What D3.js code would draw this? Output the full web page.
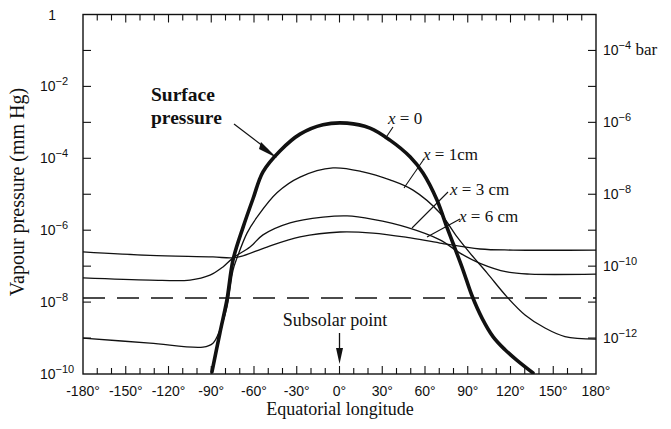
<!DOCTYPE html>
<html><head><meta charset="utf-8">
<script src="https://cdn.jsdelivr.net/npm/d3@7"></script>
<style>
html,body{margin:0;padding:0;background:#fff;}
svg{display:block;}
.tick-lab{font-family:"Liberation Sans","Arial",sans-serif;font-size:14px;fill:#111;}
.serif{font-family:"Liberation Serif","Times New Roman",serif;fill:#111;}
</style>
</head><body>
<svg id="chart" width="671" height="429"></svg>
<script>
// ---- data (longitude in degrees, vapour pressure in mm Hg) ----
const lonTicks = [-180,-150,-120,-90,-60,-30,0,30,60,90,120,150,180];
const leftTickExps = [0,-2,-4,-6,-8,-10];
const rightTickExps = [-4,-6,-8,-10,-12];

const surfaceLon = [-89.5,-83.9,-79,-74.7,-67.7,-60.7,-53.7,-41.8,-27.7,-11.6,5.3,21.4,35.4,49.5,58.6,68.4,75.4,79.6,86.7,93,100,107.7,116,124.6,135.8];
const surfaceP   = [1.15e-10,1.4e-9,1.15e-8,1.5e-7,1.2e-6,7.5e-6,4.2e-5,1.6e-4,4.7e-4,8.6e-4,9.5e-4,6.9e-4,3.2e-4,1.1e-4,3.9e-5,6.9e-6,1.2e-6,4.4e-7,7.8e-8,1.5e-8,3.6e-9,1.1e-9,4.8e-10,2.4e-10,1.07e-10];

const x1Lon = [-180,-133,-95.8,-88.8,-83.9,-79,-74.7,-71.9,-64.9,-57.9,-43.9,-27.7,-4.6,16.5,35.4,51.6,70.5,82.5,91.6,103.5,117.5,130.2,144.2,158.2,180];
const x1P   = [1.0e-9,7.2e-10,5.6e-10,7.2e-10,1.7e-9,7.3e-9,7.8e-8,1.7e-7,8.3e-7,2.3e-6,1.1e-5,3.0e-5,5.4e-5,4.2e-5,2.5e-5,1.3e-5,3.0e-6,6.5e-7,2.3e-7,6.5e-8,1.4e-8,4.4e-9,1.9e-9,1.1e-9,9.3e-10];

const x3Lon = [-180,-133,-104.9,-90.9,-81.8,-74.7,-62.8,-53.7,-34.7,-11.6,5.3,23.5,47.4,70.5,84.6,98.6,117.5,133.7,180];
const x3P   = [4.7e-8,4.1e-8,4.1e-8,5.6e-8,9.5e-8,1.7e-7,3.4e-7,7.4e-7,1.6e-6,2.3e-6,2.5e-6,2.0e-6,1.2e-6,5.4e-7,2.3e-7,1.2e-7,6.9e-8,6.0e-8,6.0e-8];

const x6Lon = [-180,-133,-88.8,-75.4,-68.4,-50.9,-27.7,0.4,23.5,47.4,70.5,98.6,121.8,180];
const x6P   = [2.5e-7,2.0e-7,1.8e-7,1.7e-7,1.9e-7,3.4e-7,6.5e-7,8.9e-7,8.3e-7,6.3e-7,4.4e-7,3.0e-7,2.8e-7,2.8e-7];

const subsolarP = 1.3e-8;   // dashed reference level
const subsolarLon = 0;

// ---- layout ----
const svg = d3.select("#chart");
const L = 83, R = 596, T = 14.5, B = 374;
const x = d3.scaleLinear().domain([-180,180]).range([L,R]);
const y = d3.scaleLog().domain([1,1e-10]).range([T,B]);
const yBar = d3.scaleLog().domain([1e-3,1e-13]).range([T,B]);
const ink = "#111";

// frame
svg.append("rect").attr("x",L).attr("y",T).attr("width",R-L).attr("height",B-T)
  .attr("fill","none").attr("stroke",ink).attr("stroke-width",1.4);

// bottom/top minor ticks every 10 deg
const lon10 = d3.range(-170,180,10);
svg.append("g").selectAll("line").data(lon10).join("line")
  .attr("x1",d=>x(d)).attr("x2",d=>x(d)).attr("y1",B).attr("y2",d=>B-(d%30===0?8:6))
  .attr("stroke",ink).attr("stroke-width",1.1);
svg.append("g").selectAll("line").data(lon10).join("line")
  .attr("x1",d=>x(d)).attr("x2",d=>x(d)).attr("y1",T).attr("y2",d=>T+(d%30===0?8:6))
  .attr("stroke",ink).attr("stroke-width",1.1);

// bottom labels
svg.append("g").selectAll("text").data(lonTicks).join("text")
  .attr("class","tick-lab").attr("x",d=>x(d)).attr("y",396).attr("text-anchor","middle")
  .text(d=>d+"°");

// left ticks every decade
const leftDec = d3.range(-1,-10,-1);
svg.append("g").selectAll("line").data(leftDec).join("line")
  .attr("x1",L).attr("x2",L+8).attr("y1",d=>y(Math.pow(10,d))).attr("y2",d=>y(Math.pow(10,d)))
  .attr("stroke",ink).attr("stroke-width",1.1);
// right ticks every decade (bar scale)
const rightDec = d3.range(-4,-13,-1);
svg.append("g").selectAll("line").data(rightDec).join("line")
  .attr("x1",R).attr("x2",R-8).attr("y1",d=>yBar(Math.pow(10,d))).attr("y2",d=>yBar(Math.pow(10,d)))
  .attr("stroke",ink).attr("stroke-width",1.1);

// left labels
leftTickExps.forEach(e=>{
  const yy = y(Math.pow(10,e));
  if(e===0){
    svg.append("text").attr("class","tick-lab").attr("x",56).attr("y",yy+5).attr("text-anchor","end").text("1");
  } else {
    const t = svg.append("text").attr("class","tick-lab").attr("x",40).attr("y",yy+5);
    t.append("tspan").text("10");
    t.append("tspan").attr("dy",-6).attr("font-size",11).text("−"+(-e));
  }
});
// right labels
rightTickExps.forEach(e=>{
  const yy = yBar(Math.pow(10,e));
  const t = svg.append("text").attr("class","tick-lab").attr("x",603).attr("y",yy+5);
  t.append("tspan").text("10");
  t.append("tspan").attr("dy",-6).attr("font-size",11).text("−"+(-e));
  if(e===-4){
    t.append("tspan").attr("dy",6).attr("font-family","Liberation Serif, serif").attr("font-size",17).text(" bar");
  }
});

// axis titles
svg.append("text").attr("class","serif").attr("x",340).attr("y",415).attr("text-anchor","middle")
  .attr("font-size",18).text("Equatorial longitude");
svg.append("text").attr("class","serif").attr("transform","translate(24,192) rotate(-90)")
  .attr("text-anchor","middle").attr("font-size",20).text("Vapour pressure (mm Hg)");

// dashed subsolar line
svg.append("line").attr("x1",L).attr("x2",R).attr("y1",y(subsolarP)).attr("y2",y(subsolarP))
  .attr("stroke",ink).attr("stroke-width",1.3).attr("stroke-dasharray","22,12");

// curves
const clipId = "plotclip";
svg.append("clipPath").attr("id",clipId).append("rect").attr("x",L).attr("y",T).attr("width",R-L).attr("height",B-T);
const line = d3.line().x(d=>x(d[0])).y(d=>y(d[1])).curve(d3.curveCatmullRom.alpha(0.5));
const zipS = (a,b)=>a.map((v,i)=>[v,b[i]]);
const g = svg.append("g").attr("clip-path","url(#"+clipId+")");
[[x6Lon,x6P],[x3Lon,x3P],[x1Lon,x1P]].forEach(([a,b])=>{
  g.append("path").attr("d",line(zipS(a,b))).attr("fill","none").attr("stroke",ink).attr("stroke-width",1.3);
});
g.append("path").attr("d",line(zipS(surfaceLon,surfaceP))).attr("fill","none").attr("stroke",ink).attr("stroke-width",3.6).attr("stroke-linecap","round");

// Subsolar point label + arrow
svg.append("text").attr("class","serif").attr("x",335).attr("y",326).attr("text-anchor","middle")
  .attr("font-size",18).text("Subsolar point");
const sx = x(subsolarLon);
svg.append("line").attr("x1",sx).attr("x2",sx).attr("y1",333).attr("y2",352).attr("stroke",ink).attr("stroke-width",1.3);
svg.append("path").attr("d",`M${sx-3.5},348 L${sx+3.5},348 L${sx},364 Z`).attr("fill",ink);

// Surface pressure label + arrow
svg.append("text").attr("class","serif").attr("x",151).attr("y",101).attr("font-size",19.5).attr("font-weight","bold").text("Surface");
svg.append("text").attr("class","serif").attr("x",151).attr("y",124).attr("font-size",19.5).attr("font-weight","bold").text("pressure");
svg.append("line").attr("x1",234).attr("y1",124).attr("x2",268).attr("y2",150).attr("stroke",ink).attr("stroke-width",1.2);
svg.append("path").attr("d","M261,142 L277,158 L259,149 Z").attr("fill",ink);

// curve labels with leader lines
function curveLabel(tx,ty,rest,lx1,ly1,lx2,ly2){
  const t = svg.append("text").attr("class","serif").attr("x",tx).attr("y",ty).attr("font-size",17);
  t.append("tspan").attr("font-style","italic").text("x");
  t.append("tspan").text(rest);
  svg.append("line").attr("x1",lx1).attr("y1",ly1).attr("x2",lx2).attr("y2",ly2).attr("stroke",ink).attr("stroke-width",1.1);
}
curveLabel(388,124," = 0",393,127,385,139);
curveLabel(423,160," = 1cm",424,159,404,188);
curveLabel(450,195," = 3 cm",448,192,412,228);
curveLabel(459,222," = 6 cm",460,219,427,237);
</script>
</body></html>
